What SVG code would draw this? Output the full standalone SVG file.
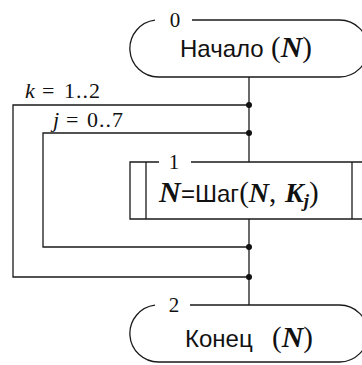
<svg xmlns="http://www.w3.org/2000/svg" width="362" height="365" viewBox="0 0 362 365">
<style>
.ln{fill:none;stroke:#1a1a1a;stroke-width:1.3}
.dot{fill:#111}
.sans{font-family:"Liberation Sans",Arial,sans-serif;font-size:24px;fill:#111}
.bi{font-family:"Liberation Serif","Times New Roman",serif;font-style:italic;font-weight:bold;font-size:30px;fill:#111}
.pr{font-family:"Liberation Serif","Times New Roman",serif;font-size:29px;fill:#111}
.sub{font-family:"Liberation Serif","Times New Roman",serif;font-style:italic;font-weight:bold;font-size:19px;fill:#111}
.lt{font-family:"Liberation Serif","Times New Roman",serif;font-size:22px;fill:#111}
.it{font-style:italic}
.lab{font-family:"Liberation Serif","Times New Roman",serif;font-size:21px;fill:#111;text-anchor:middle}
</style>
<rect width="362" height="365" fill="#fff"/>
<g id="connectors">
<line class="ln" x1="249" y1="77" x2="249" y2="162"/>
<line class="ln" x1="249" y1="219" x2="249" y2="305"/>
<polyline class="ln" points="249,105 13,105 13,277 249,277"/>
<polyline class="ln" points="249,133 43,133 43,247 249,247"/>
<circle class="dot" cx="249" cy="105" r="3"/>
<circle class="dot" cx="249" cy="133" r="3"/>
<circle class="dot" cx="249" cy="247" r="3"/>
<circle class="dot" cx="249" cy="277" r="3"/>
<text class="lt" y="98"><tspan class="it" x="25">k</tspan><tspan x="42">=</tspan><tspan x="64" letter-spacing="1">1..2</tspan></text>
<text class="lt" y="127"><tspan class="it" x="53">j</tspan><tspan x="66">=</tspan><tspan x="87" letter-spacing="1">0..7</tspan></text>
</g>
<g id="node0">
<path class="ln" d="M192,20 H339.5 A28.5,28.5 0 0 1 339.5,77 H158.5 A28.5,28.5 0 0 1 155,20.2"/>
<text class="lab" x="175" y="27">0</text>
<text y="57"><tspan class="sans" x="180">Начало</tspan><tspan class="pr" x="271">(</tspan><tspan class="bi">N</tspan><tspan class="pr">)</tspan></text>
</g>
<g id="node1">
<path class="ln" d="M191,162 H368 V219 H130 V162 H159"/>
<line class="ln" x1="146" y1="162" x2="146" y2="219"/>
<line class="ln" x1="352" y1="162" x2="352" y2="219"/>
<text class="lab" x="174" y="169">1</text>
<text y="202"><tspan class="bi" x="159">N</tspan><tspan class="sans" x="181">=Шаг</tspan><tspan class="pr">(</tspan><tspan class="bi" style="font-size:28px">N</tspan><tspan class="pr">,</tspan><tspan class="bi" x="285" style="font-size:28px">K</tspan><tspan class="sub" dy="5">j</tspan><tspan class="pr" dy="-5">)</tspan></text>
</g>
<g id="node2">
<path class="ln" d="M190,305 H339.5 A28.5,28.5 0 0 1 339.5,362 H158.5 A28.5,28.5 0 0 1 155,305.2"/>
<text class="lab" x="174" y="312">2</text>
<text y="347"><tspan class="sans" x="185">Конец</tspan><tspan class="pr" x="272">(</tspan><tspan class="bi">N</tspan><tspan class="pr">)</tspan></text>
</g>
</svg>
